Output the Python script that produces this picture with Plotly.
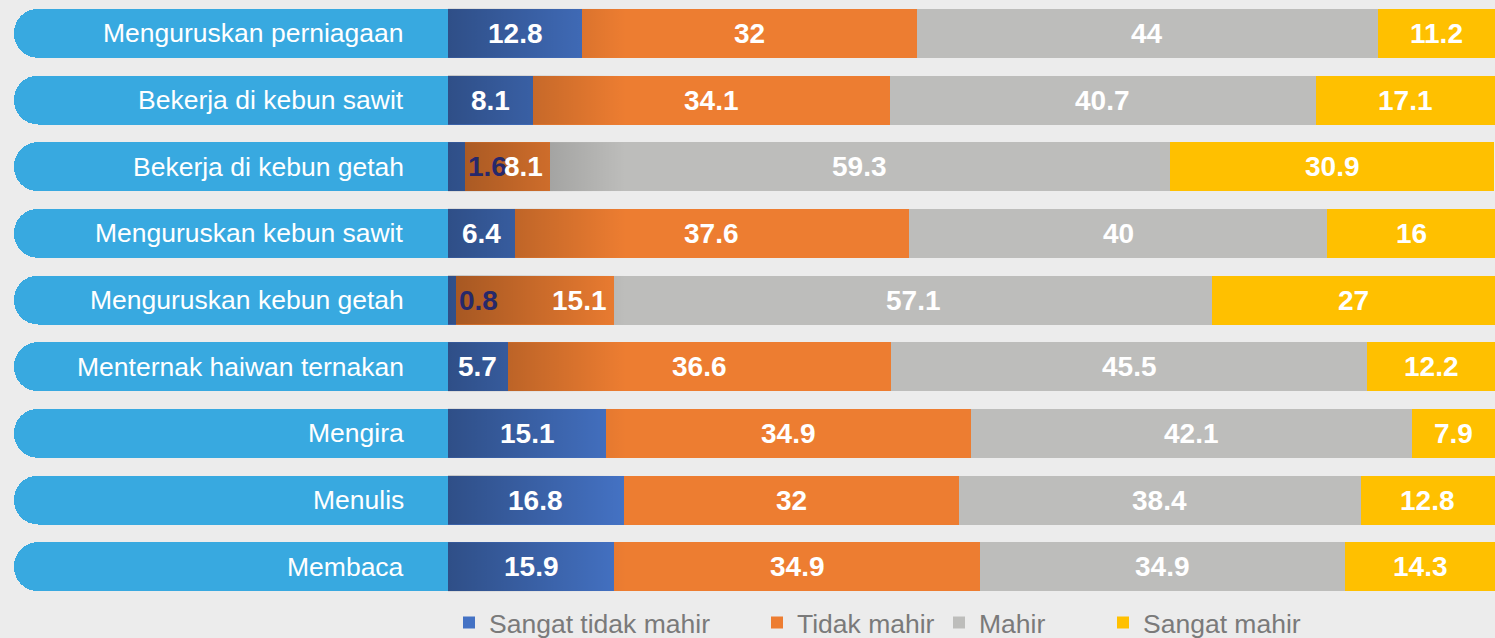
import plotly.graph_objects as go

# ---------------- data ----------------
categories = [
    "Menguruskan perniagaan",
    "Bekerja di kebun sawit",
    "Bekerja di kebun getah",
    "Menguruskan kebun sawit",
    "Menguruskan kebun getah",
    "Menternak haiwan ternakan",
    "Mengira",
    "Menulis",
    "Membaca",
]
series_names = ["Sangat tidak mahir", "Tidak mahir", "Mahir", "Sangat mahir"]
sangat_tidak_mahir = [12.8, 8.1, 1.6, 6.4, 0.8, 5.7, 15.1, 16.8, 15.9]
tidak_mahir = [32, 34.1, 8.1, 37.6, 15.1, 36.6, 34.9, 32, 34.9]
mahir = [44, 40.7, 59.3, 40, 57.1, 45.5, 42.1, 38.4, 34.9]
sangat_mahir = [11.2, 17.1, 30.9, 16, 27, 12.2, 7.9, 12.8, 14.3]

# ---------------- style ----------------
series_values = [sangat_tidak_mahir, tidak_mahir, mahir, sangat_mahir]
colors = ["#4472C4", "#ED7D31", "#BDBDBB", "#FFC000"]
PILL_COLOR = "#38A9E0"
BG = "#ececec"
PANEL_W = 41.45          # width of the label pill, in axis units
BAR_W = 0.735
SHADE_END = 17           # extent of the dark left shading, in axis units
SMALL = 2                # values below this get their label outside
FONT = "Liberation Sans, Arial, sans-serif"
LEG_FONT = "Liberation Sans Narrow, Arial Narrow, Liberation Sans, sans-serif"

n = len(categories)
ypos = list(range(n))
yrange = [n - 0.5, -0.5]
xrange_ = [-PANEL_W, 100]

fig = go.Figure()

legend_ids = ["legend", "legend2", "legend3", "legend4"]
for name, vals, col, lg in zip(series_names, series_values, colors, legend_ids):
    fig.add_trace(go.Bar(
        y=ypos, x=vals, name=name, orientation="h",
        marker=dict(color=col, line=dict(width=0)),
        width=BAR_W, legend=lg, hoverinfo="skip",
    ))

# dark shading overlay on the left part of the bars
sx, sy = [], []
for i in ypos:
    sx += [0, SHADE_END, SHADE_END, 0, 0, None]
    sy += [i - BAR_W / 2, i - BAR_W / 2, i + BAR_W / 2, i + BAR_W / 2, i - BAR_W / 2, None]
fig.add_trace(go.Scatter(
    x=sx, y=sy, mode="lines", fill="toself", line=dict(width=0, color="rgba(0,0,0,0)"),
    fillgradient=dict(type="horizontal",
                      colorscale=[[0, "rgba(0,0,0,0.31)"], [1, "rgba(0,0,0,0)"]],
                      start=0, stop=SHADE_END),
    showlegend=False, hoverinfo="skip",
))

# label pills (separate overlaid subplot so rounding doesn't affect the stack)
fig.add_trace(go.Bar(
    y=ypos, x=[-PANEL_W] * n, orientation="h", xaxis="x2", yaxis="y2",
    marker=dict(color=PILL_COLOR, cornerradius=25, line=dict(width=0)),
    width=BAR_W, showlegend=False, hoverinfo="skip",
))

annotations = []
for i, cat in enumerate(categories):
    annotations.append(dict(
        x=0, y=i, xref="x", yref="y", text=cat, showarrow=False,
        xanchor="right", xshift=-42,
        font=dict(family=FONT, size=26.5, color="white"),
    ))

for i in range(n):
    start = 0.0
    force_right = False
    for j, vals in enumerate(series_values):
        v = vals[i]
        end = start + v
        label = f"{v:g}"
        if v < SMALL:
            ann = dict(x=end, xanchor="left", xshift=1, color="#27286a")
            force_right = True
        elif force_right:
            ann = dict(x=end, xanchor="right", xshift=-5, color="white")
            force_right = False
        else:
            ann = dict(x=(start + end) / 2, xanchor="center", xshift=0, color="white")
        annotations.append(dict(
            x=ann["x"], y=i, xref="x", yref="y", text=f"<b>{label}</b>",
            showarrow=False, xanchor=ann["xanchor"], xshift=ann["xshift"],
            font=dict(family=FONT, size=28, color=ann["color"]),
        ))
        start = end

PLOT_L, PLOT_W = 14, 1481
legend_text_px = [489, 797, 979, 1143]
leg_common = dict(orientation="h", yanchor="middle", y=-0.038, xanchor="left",
                  bgcolor="rgba(0,0,0,0)", borderwidth=0,
                  font=dict(family=LEG_FONT, size=26.5, color="#7a7a7a"))
legends = {}
for lg, tx in zip(legend_ids, legend_text_px):
    legends[lg] = dict(leg_common, x=(tx - 40 - PLOT_L) / PLOT_W)

fig.update_layout(
    width=1495, height=638,
    margin=dict(l=PLOT_L, r=0, t=0, b=38, autoexpand=False),
    barmode="stack",
    paper_bgcolor=BG, plot_bgcolor=BG,
    xaxis=dict(range=xrange_, visible=False, fixedrange=True),
    yaxis=dict(range=yrange, visible=False, fixedrange=True),
    xaxis2=dict(range=xrange_, visible=False, overlaying="x"),
    yaxis2=dict(range=yrange, visible=False, overlaying="y"),
    annotations=annotations,
    **legends,
)

fig.write_html(
    "out.html",
    config={"displayModeBar": False},
    post_script="document.body.style.margin='0';document.body.style.padding='0';",
)
